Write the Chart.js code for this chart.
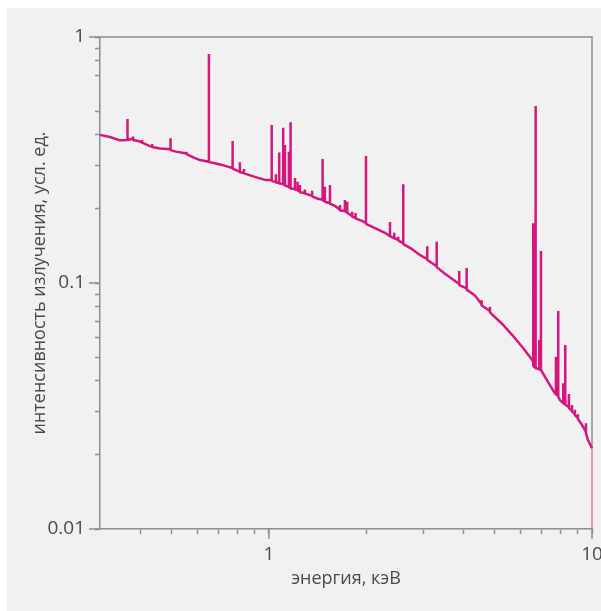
<!DOCTYPE html>
<html>
<head>
<meta charset="utf-8">
<script src="https://cdn.jsdelivr.net/npm/chart.js@4.4.0/dist/chart.umd.min.js"></script>
<style>
  html, body { margin: 0; padding: 0; background: #fff; overflow: hidden; width: 601px; height: 611px; }
  #wrap { position: absolute; left: 7px; top: 8px; width: 620px; height: 603px; background: #f1f1f1; }
</style>
</head>
<body>
<div id="wrap"><canvas id="chart" width="620" height="603"></canvas></div>
<script>
// spectrum: energy (keV) and intensity (arb. units),
// lines are drawn as base -> peak -> base at the same energy
const energy = [
  0.300, 0.322, 0.346,
  0.365, 0.365, 0.365,
  0.374, 0.380, 0.380, 0.380, 0.393,
  0.405, 0.405, 0.405,
  0.428, 0.435, 0.435, 0.435, 0.460,
  0.496, 0.496, 0.496,
  0.516, 0.556, 0.556, 0.556, 0.590, 0.612,
  0.652, 0.652, 0.652,
  0.681, 0.716,
  0.772, 0.772, 0.772,
  0.813, 0.813, 0.813,
  0.837, 0.837, 0.837,
  0.905, 0.979,
  1.020, 1.020, 1.020,
  1.051, 1.051, 1.051,
  1.076, 1.076, 1.076,
  1.107, 1.107, 1.107,
  1.121, 1.121, 1.121,
  1.153, 1.153, 1.153,
  1.167, 1.167, 1.167,
  1.204, 1.204, 1.204,
  1.227, 1.227, 1.227,
  1.247, 1.247, 1.247,
  1.292, 1.292, 1.292,
  1.361, 1.361, 1.361,
  1.418,
  1.466, 1.466, 1.466,
  1.490, 1.490, 1.490,
  1.545, 1.545, 1.545,
  1.601,
  1.659, 1.659, 1.659,
  1.719, 1.719, 1.719,
  1.747, 1.747, 1.747,
  1.811, 1.811, 1.811,
  1.855, 1.855, 1.855,
  1.941,
  1.997, 1.997, 1.997,
  2.129, 2.287,
  2.370, 2.370, 2.370,
  2.443, 2.443, 2.443,
  2.513, 2.513, 2.513,
  2.605, 2.605, 2.605,
  2.733, 2.934,
  3.091, 3.091, 3.091,
  3.306, 3.306, 3.306,
  3.506,
  3.882, 3.882, 3.882,
  4.093, 4.093, 4.093,
  4.342,
  4.554, 4.554, 4.554,
  4.832, 4.832, 4.832,
  5.313, 5.693, 6.127, 6.531,
  6.578, 6.578, 6.578,
  6.692, 6.692, 6.692,
  6.866, 6.866, 6.866,
  6.950, 6.950, 6.950,
  7.305, 7.679,
  7.734, 7.734, 7.734,
  7.862, 7.862, 7.862,
  7.958,
  8.147, 8.147, 8.147,
  8.264, 8.264, 8.264,
  8.484, 8.484, 8.484,
  8.668, 8.668, 8.668,
  8.855, 8.855, 8.855,
  9.046, 9.046, 9.046,
  9.308,
  9.577, 9.577, 9.577,
  9.714, 10.0
];
const intensity = [
  0.400, 0.392, 0.380,
  0.381, 0.464, 0.380,
  0.385, 0.383, 0.394, 0.381, 0.378,
  0.3725, 0.381, 0.372,
  0.360, 0.358, 0.367, 0.357, 0.352,
  0.350, 0.388, 0.347,
  0.342, 0.336, 0.342, 0.334, 0.322, 0.316,
  0.311, 0.853, 0.310,
  0.307, 0.302,
  0.293, 0.378, 0.292,
  0.283, 0.310, 0.282,
  0.280, 0.291, 0.279,
  0.270, 0.262,
  0.262, 0.439, 0.260,
  0.257, 0.277, 0.256,
  0.255, 0.339, 0.254,
  0.253, 0.428, 0.252,
  0.250, 0.364, 0.249,
  0.246, 0.342, 0.245,
  0.243, 0.450, 0.242,
  0.241, 0.267, 0.240,
  0.239, 0.258, 0.238,
  0.235, 0.250, 0.234,
  0.232, 0.240, 0.231,
  0.226, 0.237, 0.225,
  0.220,
  0.218, 0.319, 0.217,
  0.215, 0.246, 0.214,
  0.211, 0.250, 0.210,
  0.206,
  0.198, 0.2075, 0.197,
  0.196, 0.2175, 0.195,
  0.194, 0.214, 0.193,
  0.187, 0.195, 0.186,
  0.184, 0.1925, 0.183,
  0.179,
  0.175, 0.328, 0.174,
  0.167, 0.160,
  0.155, 0.177, 0.155,
  0.152, 0.160, 0.152,
  0.150, 0.154, 0.149,
  0.145, 0.252, 0.144,
  0.139, 0.130,
  0.125, 0.141, 0.124,
  0.117, 0.147, 0.116,
  0.109,
  0.099, 0.112, 0.098,
  0.095, 0.115, 0.094,
  0.089,
  0.082, 0.085, 0.081,
  0.077, 0.080, 0.076,
  0.0675, 0.061, 0.0543, 0.0486,
  0.0477, 0.175, 0.046,
  0.0451, 0.524, 0.045,
  0.0447, 0.0587, 0.0445,
  0.0443, 0.135, 0.0443,
  0.0396, 0.0356,
  0.0354, 0.0502, 0.0352,
  0.0347, 0.077, 0.0345,
  0.0334,
  0.0325, 0.0391, 0.0324,
  0.0322, 0.056, 0.032,
  0.0313, 0.0354, 0.031,
  0.0302, 0.0319, 0.030,
  0.0293, 0.0305, 0.029,
  0.0283, 0.0293, 0.028,
  0.0265,
  0.0248, 0.0269, 0.0246,
  0.0230, 0.0213
];
// the cut-off at the end of the range
const edgeEnergy = [10.0, 10.0];
const edgeIntensity = [0.0213, 0.0101];

const xTicks = [0.4, 0.5, 0.6, 0.7, 0.8, 0.9, 1, 2, 3, 4, 5, 6, 7, 8, 9, 10];
const xLabels = [1, 10];
const yTicks = [0.01, 0.02, 0.03, 0.04, 0.05, 0.06, 0.07, 0.08, 0.09, 0.1,
                0.2, 0.3, 0.4, 0.5, 0.7, 0.8, 0.9, 1];
const yLabels = [0.01, 0.1, 1];

const axisColor = '#8e8e8e';
const textColor = '#4a4a4a';
const lineColor = '#d4177e';

const frame = {
  id: 'frame',
  beforeDatasetsDraw(chart) {
    const { ctx, chartArea: a, scales: { x, y } } = chart;
    ctx.save();
    ctx.strokeStyle = axisColor;
    ctx.lineWidth = 1.5;
    ctx.beginPath();
    ctx.moveTo(a.left, a.top);
    ctx.lineTo(a.right, a.top);
    ctx.lineTo(a.right, a.bottom);
    yLabels.forEach(v => {
      const py = y.getPixelForValue(v);
      ctx.moveTo(a.left - 11, py);
      ctx.lineTo(a.left, py);
    });
    xLabels.forEach(v => {
      const px = x.getPixelForValue(v);
      ctx.moveTo(px, a.bottom);
      ctx.lineTo(px, a.bottom + 10);
    });
    ctx.stroke();
    ctx.restore();
  }
};

new Chart(document.getElementById('chart').getContext('2d'), {
  type: 'scatter',
  data: {
    datasets: [
      {
        data: energy.map((e, i) => ({ x: e, y: intensity[i] })),
        showLine: true,
        borderColor: lineColor,
        borderWidth: 2.5,
        borderJoinStyle: 'bevel',
        pointRadius: 0,
        clip: 6,
      },
      {
        data: edgeEnergy.map((e, i) => ({ x: e, y: edgeIntensity[i] })),
        showLine: true,
        borderColor: '#ee9cc4',
        borderWidth: 1.2,
        pointRadius: 0,
        clip: 6,
      },
    ],
  },
  options: {
    responsive: false,
    animation: false,
    layout: { padding: { left: 0, top: 29, right: 35, bottom: 0 } },
    plugins: { legend: { display: false }, tooltip: { enabled: false } },
    scales: {
      x: {
        type: 'logarithmic',
        min: 0.3,
        max: 10,
        afterBuildTicks: (scale) => { scale.ticks = xTicks.map(v => ({ value: v })); },
        afterFit: (scale) => { scale.height = 82; },
        ticks: {
          autoSkip: false,
          maxRotation: 0,
          padding: 9,
          color: textColor,
          font: { family: 'Open Sans', size: 19 },
          callback: (v) => (xLabels.includes(v) ? String(v) : ''),
        },
        grid: { drawOnChartArea: false, tickLength: 5, tickColor: axisColor, tickWidth: 1.5 },
        border: { color: axisColor, width: 1.5 },
        title: {
          display: true,
          text: 'энергия, кэВ',
          color: textColor,
          font: { family: 'Open Sans', size: 18 },
          padding: { top: 0, bottom: 21 },
        },
      },
      y: {
        type: 'logarithmic',
        min: 0.01,
        max: 1,
        afterBuildTicks: (scale) => { scale.ticks = yTicks.map(v => ({ value: v })); },
        afterFit: (scale) => { scale.width = 93; },
        ticks: {
          autoSkip: false,
          padding: 10,
          color: textColor,
          font: { family: 'Open Sans', size: 19 },
          callback: (v) => (yLabels.includes(v) ? String(v) : ''),
        },
        grid: { drawOnChartArea: false, tickLength: 5, tickColor: axisColor, tickWidth: 1.5 },
        border: { color: axisColor, width: 1.5 },
        title: {
          display: true,
          text: 'интенсивность излучения, усл. ед.',
          color: textColor,
          font: { family: 'Open Sans', size: 18 },
          padding: { top: 22, bottom: 0 },
        },
      },
    },
  },
  plugins: [frame],
});
</script>
</body>
</html>
